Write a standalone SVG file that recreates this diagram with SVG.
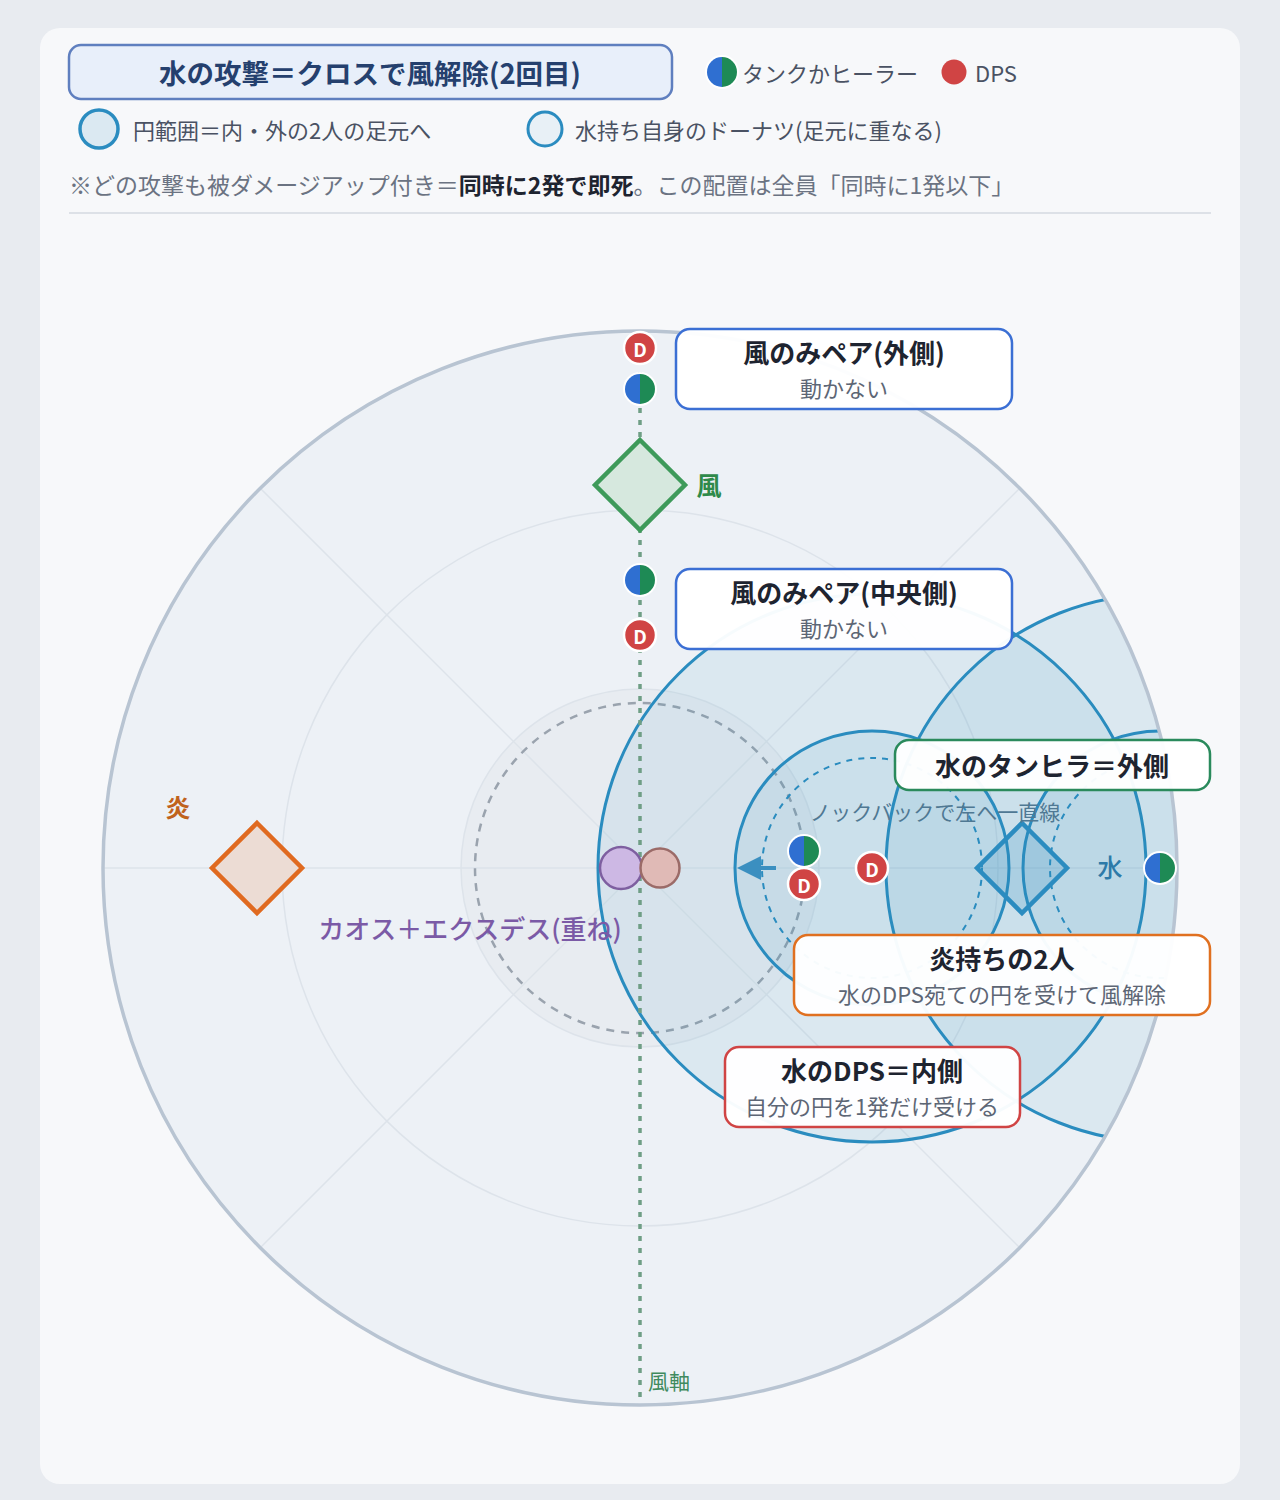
<svg xmlns="http://www.w3.org/2000/svg" xmlns:xlink="http://www.w3.org/1999/xlink" width="1280" height="1500" viewBox="0 0 1280 1500">
<style>
text{font-family:"Noto Sans CJK JP","Noto Sans",sans-serif;}
.ring{fill:none;stroke:#dde3ea;stroke-width:1.5}
.wc{fill:rgba(43,140,192,0.09);stroke:#2a8cbf;stroke-width:3}
.wd{fill:none;stroke:#2a8cbf;stroke-width:2;stroke-dasharray:6 6}
.box{fill:#ffffff;fill-opacity:0.96;stroke-width:2.5}
.bt{font-size:26px;font-weight:700;fill:#1e2430;text-anchor:middle;dominant-baseline:central}
.bs{font-size:22px;fill:#5d6675;text-anchor:middle;dominant-baseline:central}
.leg{font-size:22px;fill:#4a5263;dominant-baseline:central}
.dps{fill:#d04444;stroke:#fff;stroke-width:2.5}
.dt{font-size:19px;font-weight:700;fill:#fff;text-anchor:middle;dominant-baseline:central}
</style>
<defs>
<clipPath id="arena"><circle cx="640" cy="868" r="536"/></clipPath>
<g id="th">
<circle r="17" fill="#fff"/>
<path d="M0,-15 A15,15 0 0 0 0,15 Z" fill="#2f6fd1"/>
<path d="M0,-15 A15,15 0 0 1 0,15 Z" fill="#1e8a55"/>
</g>
<g id="dp">
<circle r="16" class="dps"/>
<text class="dt" y="0">D</text>
</g>
</defs>
<rect width="1280" height="1500" fill="#e8ebf0"/>
<rect x="40" y="28" width="1200" height="1456" rx="20" fill="#f7f8fa"/>

<g id="header">
<rect x="69" y="45" width="603" height="54" rx="12" fill="#e8effa" stroke="#5f7fbf" stroke-width="2.5"/>
<text x="370" y="72" font-size="27.5" font-weight="700" fill="#25406e" text-anchor="middle" dominant-baseline="central">水の攻撃＝クロスで風解除(2回目)</text>
<use xlink:href="#th" x="722" y="72"/>
<text class="leg" x="742" y="72">タンクかヒーラー</text>
<circle cx="954" cy="72" r="12.5" fill="#d04444"/>
<text class="leg" x="975" y="72" font-size="26">DPS</text>
<circle cx="99" cy="129" r="19" fill="#dbe9f2" stroke="#2b8cc0" stroke-width="3.5"/>
<text class="leg" x="133" y="129" font-size="23">円範囲＝内・外の2人の足元へ</text>
<circle cx="545" cy="129" r="17" fill="#e8f0f6" stroke="#2b8cc0" stroke-width="3"/>
<text class="leg" x="575" y="129" font-size="23.5">水持ち自身のドーナツ(足元に重なる)</text>
<text x="69" y="184" font-size="23" fill="#6b7382" dominant-baseline="central">※どの攻撃も被ダメージアップ付き＝<tspan font-weight="700" fill="#1e2430">同時に2発で即死</tspan>。この配置は全員「同時に1発以下」</text>
<line x1="69" y1="213" x2="1211" y2="213" stroke="#dde1e7" stroke-width="2"/>
</g>

<g id="arena-base">
<circle cx="640" cy="868" r="537" fill="#edf1f6"/>
<circle cx="640" cy="868" r="358" class="ring"/>
<circle cx="640" cy="868" r="179" fill="#e8ecf1" stroke="#dde3ea" stroke-width="1.5"/>
<line x1="103" y1="868" x2="1177" y2="868" class="ring"/>
<line x1="260" y1="488" x2="1020" y2="1248" class="ring"/>
<line x1="1020" y1="488" x2="260" y2="1248" class="ring"/>
<circle cx="640" cy="868" r="165" fill="none" stroke="#9aa3ae" stroke-width="2.5" stroke-dasharray="8 7"/>
</g>

<g id="water-aoe" clip-path="url(#arena)">
<circle cx="872" cy="868" r="274" class="wc"/>
<circle cx="1160" cy="868" r="274" class="wc"/>
<circle cx="872" cy="868" r="137" class="wc"/>
<circle cx="1160" cy="868" r="137" class="wc"/>
<circle cx="872" cy="868" r="110" class="wd"/>
<circle cx="1160" cy="868" r="110" class="wd"/>
</g>
<circle cx="640" cy="868" r="537" fill="none" stroke="#b8c4d2" stroke-width="3.5"/>

<g id="connectors">
<line x1="640" y1="336" x2="640" y2="1400" stroke="#6f9e85" stroke-width="3.5" stroke-dasharray="5 7"/>
<line x1="776" y1="868" x2="755" y2="868" stroke="#3b8fc0" stroke-width="4"/>
<polygon points="737,868 761,856 761,880" fill="#3b8fc0"/>
</g>
<text x="669" y="1380" font-size="21" fill="#3f8a5e" text-anchor="middle" dominant-baseline="central">風軸</text>

<g id="wind-marker">
<polygon points="640,440 685,485 640,530 595,485" fill="#d6e8de" stroke="#3e9a5a" stroke-width="4.5"/>
<text x="709" y="484" font-size="25" font-weight="700" fill="#2f8a4a" text-anchor="middle" dominant-baseline="central">風</text>
</g>
<g id="fire-marker">
<polygon points="257,823 302,868 257,913 212,868" fill="#ecdcd4" stroke="#e06a20" stroke-width="4.5"/>
<text x="178" y="806" font-size="25" font-weight="700" fill="#c0621c" text-anchor="middle" dominant-baseline="central">炎</text>
</g>
<g id="water-marker">
<polygon points="1022,823 1067,868 1022,913 977,868" fill="rgba(43,140,192,0.2)" stroke="#2b8cc0" stroke-width="4.5"/>
<text x="1110" y="866" font-size="25" font-weight="500" fill="#2d7aa8" text-anchor="middle" dominant-baseline="central">水</text>
</g>

<g id="bosses">
<circle cx="621" cy="868" r="21" fill="#cdb8e4" stroke="#7e5fa0" stroke-width="2.5"/>
<circle cx="660" cy="868" r="19.5" fill="#e0bab6" stroke="#9b6b68" stroke-width="2.5"/>
<text x="470" y="927" font-size="26" font-weight="500" fill="#7b5aa6" text-anchor="middle" dominant-baseline="central">カオス＋エクスデス(重ね)</text>
</g>

<text x="935" y="811" font-size="21" fill="#4f7893" text-anchor="middle" dominant-baseline="central">ノックバックで左へ一直線</text>

<g id="players">
<use xlink:href="#dp" x="640" y="348"/>
<use xlink:href="#th" x="640" y="389"/>
<use xlink:href="#th" x="640" y="580"/>
<use xlink:href="#dp" x="640" y="635"/>
<use xlink:href="#th" x="804" y="851"/>
<use xlink:href="#dp" x="804" y="884"/>
<use xlink:href="#dp" x="872" y="868"/>
<use xlink:href="#th" x="1160" y="868"/>
</g>

<g id="label-wind-outer">
<rect x="676" y="329" width="336" height="80" rx="14" class="box" stroke="#3b6fd4"/>
<text class="bt" x="844" y="351">風のみペア(外側)</text>
<text class="bs" x="844" y="387">動かない</text>
</g>
<g id="label-wind-center">
<rect x="676" y="569" width="336" height="80" rx="14" class="box" stroke="#3b6fd4"/>
<text class="bt" x="844" y="591">風のみペア(中央側)</text>
<text class="bs" x="844" y="627">動かない</text>
</g>
<g id="label-water-th">
<rect x="895" y="740" width="315" height="50" rx="14" class="box" stroke="#2a8a5c"/>
<text class="bt" x="1052" y="764">水のタンヒラ＝外側</text>
</g>
<g id="label-fire">
<rect x="794" y="935" width="416" height="80" rx="14" class="box" stroke="#e07020"/>
<text class="bt" x="1002" y="957">炎持ちの2人</text>
<text class="bs" x="1002" y="993">水のDPS宛ての円を受けて風解除</text>
</g>
<g id="label-water-dps">
<rect x="725" y="1047" width="295" height="80" rx="14" class="box" stroke="#d04444"/>
<text class="bt" x="872" y="1069">水のDPS＝内側</text>
<text class="bs" x="872" y="1105">自分の円を1発だけ受ける</text>
</g>
</svg>
